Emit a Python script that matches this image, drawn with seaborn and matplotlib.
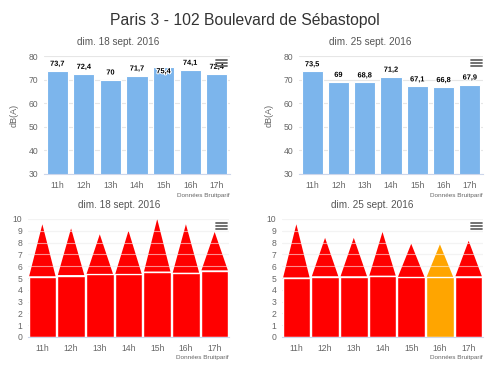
import matplotlib
matplotlib.use("Agg")
import matplotlib.pyplot as plt
import seaborn as sns
import pandas as pd
import numpy as np
from matplotlib.lines import Line2D
import matplotlib.patheffects as pe

sns.set_theme(style="white")
plt.rcParams['font.family'] = ['Liberation Sans', 'DejaVu Sans']

title = "Paris 3 - 102 Boulevard de Sébastopol"
hours = ["11h", "12h", "13h", "14h", "15h", "16h", "17h"]
day_titles = ["dim. 18 sept. 2016", "dim. 25 sept. 2016"]
db_day1 = [73.7, 72.4, 70.0, 71.7, 75.4, 74.1, 72.4]
db_day2 = [73.5, 69.0, 68.8, 71.2, 67.1, 66.8, 67.9]
base_day1 = [5.1, 5.2, 5.3, 5.3, 5.5, 5.4, 5.6]
peak_day1 = [9.55, 9.2, 8.7, 9.0, 10.0, 9.55, 8.9]
base_day2 = [5.0, 5.1, 5.1, 5.15, 5.05, 5.05, 5.1]
peak_day2 = [9.55, 8.4, 8.4, 8.9, 7.9, 7.85, 8.15]
level_day1 = ["red"] * 7
level_day2 = ["red", "red", "red", "red", "red", "orange", "red"]
credit = "Données Bruitparif"

level_colors = {"red": "#ff0000", "orange": "#ffa500"}
GRID = "#e6e6e6"
AXIS = "#ccd6eb"
LBL = "#666666"

fig = plt.figure(figsize=(5.0, 3.85), dpi=100)
W, H = 500.0, 385.0

def ax_at(x0, y0, x1, y1):
    return fig.add_axes([x0 / W, 1 - y1 / H, (x1 - x0) / W, (y1 - y0) / H])

def style_axis(ax, n):
    for s in ["left", "right", "top"]:
        ax.spines[s].set_visible(False)
    ax.spines["bottom"].set_color(AXIS)
    ax.spines["bottom"].set_linewidth(0.8)
    ax.set_xlim(-0.5, n - 0.5)
    ax.set_xticks(range(n))
    ax.set_xticklabels(hours)
    ax.set_xticks(np.arange(-0.5, n, 1.0), minor=True)
    ax.tick_params(axis="x", which="major", length=0, labelsize=6.2,
                   labelcolor=LBL, pad=5)
    ax.tick_params(axis="x", which="minor", length=4, color=AXIS, width=0.8)
    ax.tick_params(axis="y", length=0, labelsize=6.2, labelcolor=LBL, pad=4)
    ax.yaxis.grid(True, color=GRID, linewidth=0.8)
    ax.xaxis.grid(False)
    ax.set_axisbelow(True)
    ax.set_xlabel("")

def menu_icon(x0, y0):
    for k in range(3):
        y = 1 - (y0 + k * 3.0) / H
        fig.add_artist(Line2D([x0 / W, (x0 + 11) / W], [y, y],
                              color="#666666", linewidth=1.3))

# ---- top panels ----
top_specs = [((44, 56, 230, 174), db_day1, day_titles[0], 118, 216),
             ((299, 56, 483, 174), db_day2, day_titles[1], 370, 471)]
for (box, vals, dtitle, tcx, mx) in top_specs:
    ax = ax_at(*box)
    df = pd.DataFrame({"hour": hours, "val": vals})
    sns.barplot(data=df, x="hour", y="val", color="#7cb5ec", width=0.8,
                saturation=1, edgecolor="white", linewidth=0.8, ax=ax)
    ax.set_ylim(30, 80)
    ax.set_yticks([30, 40, 50, 60, 70, 80])
    style_axis(ax, len(hours))
    ax.set_ylabel("dB(A)", color=LBL, fontsize=6.5, labelpad=7)
    for i, v in enumerate(vals):
        lab = f"{v:g}".replace(".", ",")
        if v > 75:
            ypos, va = v - 0.6, "top"
        else:
            ypos, va = v + 1.3, "bottom"
        ax.text(i, ypos, lab, ha="center", va=va, fontsize=5.3,
                fontweight="bold", color="black",
                path_effects=[pe.withStroke(linewidth=1.5, foreground="white")])
    fig.text(tcx / W, 1 - 42 / H, dtitle, ha="center", va="center",
             fontsize=7.2, color="#555555")
    fig.text(box[2] / W, 1 - 196 / H, credit, ha="right", va="center",
             fontsize=4.6, color="#666666")
    menu_icon(mx, 60)

# ---- bottom panels ----
bot_specs = [((28, 219, 229, 337), base_day1, peak_day1, level_day1,
              day_titles[0], 119, 216),
             ((282, 219, 483, 337), base_day2, peak_day2, level_day2,
              day_titles[1], 372, 471)]
bw = 0.96
for (box, base, peak, lev, dtitle, tcx, mx) in bot_specs:
    ax = ax_at(*box)
    df = pd.DataFrame({"hour": hours, "base": base, "lev": lev})
    sns.barplot(data=df, x="hour", y="base", hue="lev",
                palette=level_colors, width=bw, saturation=1, dodge=False,
                edgecolor="white", linewidth=1.0, legend=False, ax=ax)
    for i, (b, p, l) in enumerate(zip(base, peak, lev)):
        ax.fill([i - bw / 2 + 0.02, i, i + bw / 2 - 0.02], [b + 0.05, p, b + 0.05],
                color=level_colors[l], linewidth=0, zorder=3)
    ax.set_ylim(0, 10)
    ax.set_yticks(range(0, 11))
    style_axis(ax, len(hours))
    ax.set_ylabel("")
    for g in range(6, 11):
        ax.axhline(g, color="white", alpha=0.55, linewidth=0.8, zorder=4)
    fig.text(tcx / W, 1 - 205 / H, dtitle, ha="center", va="center",
             fontsize=7.2, color="#555555")
    fig.text(box[2] / W, 1 - 358 / H, credit, ha="right", va="center",
             fontsize=4.6, color="#666666")
    menu_icon(mx, 223)

fig.text(0.49, 1 - 20 / H, title, ha="center", va="center",
         fontsize=11.3, color="#333333")

fig.savefig("out.png", dpi=100, facecolor="white")
